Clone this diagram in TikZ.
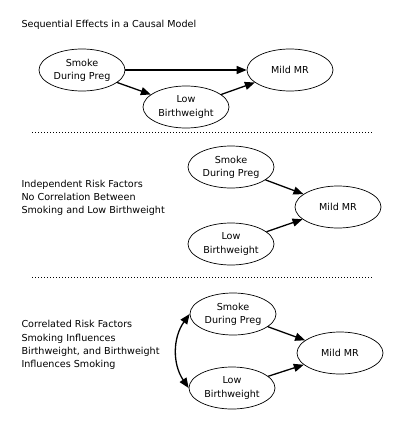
\documentclass[tikz,border=0pt]{standalone}
\usepackage{fontspec}
\setmainfont{DejaVu Sans}
\usetikzlibrary{arrows.meta,shapes,positioning,calc}

\begin{document}
\begin{tikzpicture}[x=1pt,y=-1pt,every node/.style={font=\fontsize{9.6}{13.2}\selectfont},>={Triangle[length=10pt,width=8pt]},
  var/.style={draw,ellipse,align=center,minimum width=86pt,minimum height=42pt,inner sep=0pt,line width=0.7pt},
  lnk/.style={->,line width=1.3pt},
  sep/.style={line width=0.8pt,dash pattern=on 1pt off 2pt}]
\useasboundingbox (0,0) rectangle (400,431);
% sequential effects
\node[anchor=west] (t1) at (18,25) {Sequential Effects in a Causal Model};
\node[var] (smk1) at (82,70) {Smoke\\During Preg};
\node[var] (mr1) at (290,70) {Mild MR};
\node[var] (low1) at (186,107) {Low\\Birthweight};
\draw[lnk] (smk1) -- (mr1);
\draw[lnk] (smk1) -- (low1);
\draw[lnk] (low1) -- (mr1);
\coordinate (d1a) at (32,132);
\coordinate (d1b) at (372,132);
\draw[sep] (d1a) -- (d1b);
% independent risk factors
\node[anchor=west,align=left] (t2) at (18,198) {Independent Risk Factors\\No Correlation Between\\Smoking and Low Birthweight};
\node[var] (smk2) at (231,167) {Smoke\\During Preg};
\node[var] (low2) at (231,244) {Low\\Birthweight};
\node[var] (mr2) at (338,207) {Mild MR};
\draw[lnk] (smk2) -- (mr2);
\draw[lnk] (low2) -- (mr2);
\coordinate (d2a) at (32,277);
\coordinate (d2b) at (372,277);
\draw[sep] (d2a) -- (d2b);
% correlated risk factors
\node[anchor=west,align=left] (t3) at (18,345) {Correlated Risk Factors\\Smoking Influences\\Birthweight, and Birthweight\\Influences Smoking};
\node[var] (smk3) at (233,314) {Smoke\\During Preg};
\node[var] (low3) at (232,388) {Low\\Birthweight};
\node[var] (mr3) at (340,353) {Mild MR};
\draw[lnk] (smk3) -- (mr3);
\draw[lnk] (low3) -- (mr3);
\draw[lnk,<->] (smk3.west) to[bend right=35] (low3.west);
\end{tikzpicture}
\end{document}
